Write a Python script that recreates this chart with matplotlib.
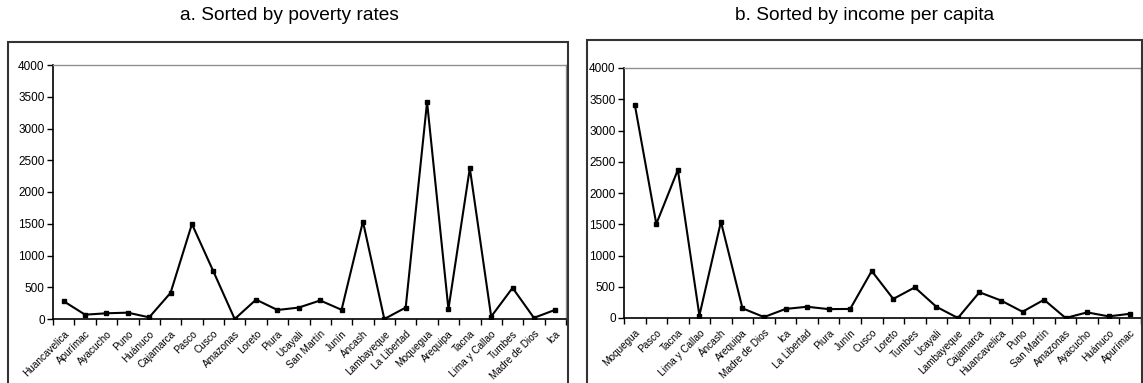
import numpy as np
import matplotlib.pyplot as plt
from matplotlib.patches import Rectangle
from matplotlib.ticker import FixedLocator

plt.rcParams['font.family'] = ['Liberation Sans', 'DejaVu Sans']

# a. regiones ordenadas por tasa de pobreza
regions_a = ['Huancavelica', 'Apurímac', 'Ayacucho', 'Puno', 'Huánuco', 'Cajamarca',
             'Pasco', 'Cusco', 'Amazonas', 'Loreto', 'Piura', 'Ucayali', 'San Martín',
             'Junín', 'Áncash', 'Lambayeque', 'La Libertad', 'Moquegua', 'Arequipa',
             'Tacna', 'Lima y Callao', 'Tumbes', 'Madre de Dios', 'Ica']
values_a = [280, 68, 90, 100, 26, 412, 1495, 752, 0, 305, 142, 180, 292,
            145, 1535, 0, 180, 3416, 155, 2376, 38, 490, 18, 145]

# b. regiones ordenadas por ingreso per capita
regions_b = ['Moquegua', 'Pasco', 'Tacna', 'Lima y Callao', 'Áncash', 'Arequipa',
             'Madre de Dios', 'Ica', 'La Libertad', 'Piura', 'Junín', 'Cusco',
             'Loreto', 'Tumbes', 'Ucayali', 'Lambayeque', 'Cajamarca', 'Huancavelica',
             'Puno', 'San Martín', 'Amazonas', 'Ayacucho', 'Huánuco', 'Apurímac']
values_b = [3416, 1505, 2370, 40, 1540, 155, 15, 145, 180, 142, 145, 752,
            305, 490, 180, 0, 412, 280, 100, 292, 0, 90, 26, 68]

yticks = [0, 500, 1000, 1500, 2000, 2500, 3000, 3500, 4000]

W, H = 1143, 383
fig = plt.figure(figsize=(W / 100, H / 100), dpi=100)


def px_rect(x0, y0, x1, y1):
    # pixel box (top-left origin) -> figure fraction [left, bottom, width, height]
    return [x0 / W, (H - y1) / H, (x1 - x0) / W, (y1 - y0) / H]


def panel(rect, labels, vals):
    ax = fig.add_axes(rect)
    x = np.arange(len(labels))
    ax.plot(x, vals, color='black', lw=1.5, marker='s', ms=2.5, mfc='black', mec='black')
    ax.set_xlim(-0.5, len(labels) - 0.5)
    ax.set_ylim(0, 4000)
    ax.set_yticks(yticks)
    ax.set_yticklabels([str(v) for v in yticks], fontsize=8.5)
    ax.set_xticks(x)
    ax.set_xticklabels(labels, rotation=45, ha='right', rotation_mode='anchor', fontsize=7.2)
    ax.xaxis.set_minor_locator(FixedLocator(np.arange(len(labels) + 1) - 0.5))
    ax.tick_params(axis='x', which='major', length=0, pad=7)
    ax.tick_params(axis='x', which='minor', length=4, direction='out', width=1)
    ax.tick_params(axis='y', length=4, direction='out', width=1, pad=2)
    for s in ['top', 'right']:
        ax.spines[s].set_color('#909090')
        ax.spines[s].set_linewidth(1)
    for s in ['left', 'bottom']:
        ax.spines[s].set_color('black')
        ax.spines[s].set_linewidth(1.2)
    return ax


panel(px_rect(53, 65, 566, 319), regions_a, values_a)
panel(px_rect(624, 68, 1141, 318), regions_b, values_b)

# marcos exteriores de cada panel
for (x0, y0, x1, y1) in [(8, 42, 568, 390), (587, 40, 1142, 390)]:
    r = px_rect(x0, y0, x1, y1)
    fig.add_artist(Rectangle((r[0], r[1]), r[2], r[3], transform=fig.transFigure,
                             fill=False, ec='#333333', lw=1.5))

fig.text(289 / W, 1 - 15 / H, 'a. Sorted by poverty rates', ha='center', va='center', fontsize=13.8)
fig.text(865 / W, 1 - 15 / H, 'b. Sorted by income per capita', ha='center', va='center', fontsize=13.8)

fig.savefig('out.png', dpi=100)
